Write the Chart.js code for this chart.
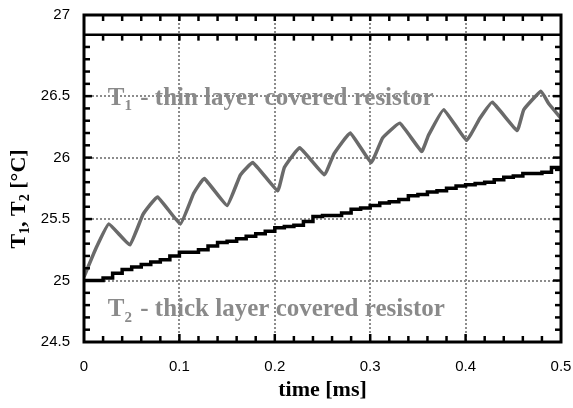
<!DOCTYPE html>
<html>
<head>
<meta charset="utf-8">
<script src="https://cdn.jsdelivr.net/npm/chart.js@4"></script>
<style>
  html, body { margin: 0; padding: 0; background: #fff; }
  #wrap { width: 573px; height: 408px; }
</style>
</head>
<body>
<div id="wrap"><canvas id="myChart" width="573" height="408"></canvas></div>
<script>
// thin layer resistor (T1)
const t1Time = [0, 0.013, 0.026, 0.048, 0.062, 0.077, 0.101, 0.115, 0.126, 0.150, 0.164, 0.177,
  0.203, 0.210, 0.226, 0.252, 0.262, 0.279, 0.301, 0.313, 0.331, 0.354, 0.361, 0.377,
  0.401, 0.415, 0.428, 0.454, 0.461, 0.479, 0.487, 0.5];
const t1Temp = [25.03, 25.27, 25.46, 25.29, 25.54, 25.68, 25.46, 25.71, 25.83, 25.61, 25.86, 25.96,
  25.73, 25.92, 26.08, 25.86, 26.03, 26.20, 25.96, 26.16, 26.28, 26.05, 26.18, 26.39,
  26.14, 26.32, 26.45, 26.22, 26.39, 26.54, 26.44, 26.32];

// thick layer resistor (T2), staircase
const t2Time = [0, 0.01, 0.02, 0.03, 0.04, 0.05, 0.06, 0.07, 0.08, 0.09,
  0.10, 0.11, 0.12, 0.13, 0.14, 0.15, 0.16, 0.17, 0.18, 0.19,
  0.20, 0.21, 0.22, 0.23, 0.24, 0.25, 0.26, 0.27, 0.28, 0.29,
  0.30, 0.31, 0.32, 0.33, 0.34, 0.35, 0.36, 0.37, 0.38, 0.39,
  0.40, 0.41, 0.42, 0.43, 0.44, 0.45, 0.46, 0.47, 0.48, 0.49, 0.50];
const t2Temp = [25.00, 25.00, 25.02, 25.06, 25.09, 25.11, 25.13, 25.15, 25.17, 25.20,
  25.23, 25.23, 25.25, 25.28, 25.31, 25.32, 25.34, 25.36, 25.38, 25.40,
  25.43, 25.44, 25.45, 25.48, 25.52, 25.53, 25.53, 25.55, 25.58, 25.59,
  25.61, 25.63, 25.64, 25.66, 25.69, 25.70, 25.72, 25.73, 25.75, 25.77,
  25.78, 25.79, 25.80, 25.82, 25.84, 25.85, 25.87, 25.87, 25.88, 25.92, 25.92];

const yTicks = [24.5, 25, 25.5, 26, 26.5];
const yTop = 27.16;   // top frame, labelled "27"
const xLabels = ['0', '0.1', '0.2', '0.3', '0.4', '0.5'];

const toXY = (xs, ys) => xs.map((x, i) => ({ x: x, y: ys[i] }));

const gridCol = (v, ends) => ends.includes(v) ? 'rgba(0,0,0,0)' : '#8c8c8c';

function tickLine(ctx, x1, y1, x2, y2) {
  ctx.beginPath();
  ctx.moveTo(x1, y1);
  ctx.lineTo(x2, y2);
  ctx.stroke();
}

// frame, inward ticks, the 27 line, labels inside the plot and the y title
const framePlugin = {
  id: 'frame',
  afterDraw(chart) {
    const ctx = chart.ctx;
    const a = chart.chartArea;
    const xs = chart.scales.x, ys = chart.scales.y;
    ctx.save();
    ctx.setLineDash([]);

    // texts inside plot
    ctx.fillStyle = '#8a8a8a';
    const drawSub = (main, sub, rest, x, y) => {
      ctx.font = 'bold 25px "Liberation Serif"';
      ctx.textBaseline = 'middle';
      ctx.textAlign = 'left';
      ctx.fillText(main, x, y);
      let w = ctx.measureText(main).width;
      ctx.font = 'bold 15px "Liberation Serif"';
      ctx.fillText(sub, x + w, y + 8);
      w += ctx.measureText(sub).width + 2;
      ctx.font = 'bold 25px "Liberation Serif"';
      ctx.fillText(rest, x + w, y);
    };
    drawSub('T', '1', ' - thin layer covered resistor', xs.getPixelForValue(0.025), ys.getPixelForValue(26.48));
    drawSub('T', '2', ' - thick layer covered resistor', xs.getPixelForValue(0.025), ys.getPixelForValue(24.76));

    // top label "27"
    ctx.fillStyle = '#000';
    ctx.font = '15px "Liberation Sans"';
    ctx.textAlign = 'right';
    ctx.textBaseline = 'middle';
    ctx.fillText('27', a.left - 14, ys.getPixelForValue(yTop));

    // line at 27
    ctx.strokeStyle = '#000';
    ctx.lineWidth = 2.5;
    const y27 = ys.getPixelForValue(27);
    tickLine(ctx, a.left, y27, a.right, y27);

    // frame
    ctx.lineWidth = 3;
    ctx.strokeRect(a.left, a.top, a.right - a.left, a.bottom - a.top);

    // ticks pointing in
    ctx.lineWidth = 2.5;
    for (let i = 1; i < 25; i++) {
      const px = xs.getPixelForValue(i * 0.02);
      const len = (i % 5 === 0) ? 8 : 6;
      tickLine(ctx, px, a.bottom, px, a.bottom - len);
      tickLine(ctx, px, a.top, px, a.top + 6);
      tickLine(ctx, px, y27, px, y27 + 6);
    }
    for (let i = 1; i < 25; i++) {
      const v = 24.5 + i * 0.1;
      if (v > 27.01) break;
      const py = ys.getPixelForValue(v);
      const len = (i % 5 === 0) ? 8 : 6;
      tickLine(ctx, a.left, py, a.left + len, py);
      tickLine(ctx, a.right, py, a.right - len, py);
    }

    // y title with subscripts
    ctx.translate(19, 199);
    ctx.rotate(-Math.PI / 2);
    ctx.fillStyle = '#000';
    ctx.textBaseline = 'middle';
    ctx.textAlign = 'left';
    const parts = [['T', 0], ['1', 1], [', T', 0], ['2', 1], [' [\u00b0C]', 0]];
    const fontOf = p => p[1] ? 'bold 14px "Liberation Serif"' : 'bold 22px "Liberation Serif"';
    let total = 0;
    parts.forEach(p => { ctx.font = fontOf(p); total += ctx.measureText(p[0]).width; });
    let cx = -total / 2;
    parts.forEach(p => {
      ctx.font = fontOf(p);
      ctx.fillText(p[0], cx, p[1] ? 6 : 0);
      cx += ctx.measureText(p[0]).width;
    });
    ctx.restore();
  }
};

const ctx = document.getElementById('myChart');
const myChart = new Chart(ctx, {
  type: 'scatter',
  data: {
    datasets: [
      {
        label: 'T2',
        data: toXY(t2Time, t2Temp),
        showLine: true,
        stepped: 'before',
        borderColor: '#000',
        borderWidth: 3.5,
        pointRadius: 0
      },
      {
        label: 'T1 edge',
        data: toXY(t1Time, t1Temp),
        showLine: true,
        borderColor: '#6a6a6a',
        borderWidth: 3.5,
        pointRadius: 0,
        tension: 0.1
      },
      {
        label: 'T1',
        data: toXY(t1Time, t1Temp),
        showLine: true,
        borderColor: '#c6c6c6',
        borderWidth: 1.5,
        pointRadius: 0,
        tension: 0.1
      }
    ]
  },
  options: {
    responsive: false,
    animation: false,
    events: [],
    layout: { padding: { top: 15, right: 12, left: 0, bottom: 0 } },
    plugins: { legend: { display: false }, tooltip: { enabled: false } },
    scales: {
      x: {
        type: 'linear',
        min: 0,
        max: 0.5,
        afterBuildTicks: s => { s.ticks = xLabels.map(v => ({ value: parseFloat(v) })); },
        afterFit: s => { s.height = 66; s.paddingLeft = 0; s.paddingRight = 0; },
        ticks: {
          callback: v => xLabels.find(l => parseFloat(l) === v),
          color: '#000',
          font: { family: '"Liberation Sans"', size: 15 },
          padding: 16,
          maxRotation: 0
        },
        grid: {
          color: c => gridCol(c.tick ? c.tick.value : -1, [0, 0.5]),
          lineWidth: 2,
          drawTicks: false
        },
        border: { display: false, dash: [2, 2] },
        title: {
          display: true,
          text: 'time [ms]',
          color: '#000',
          font: { family: '"Liberation Serif"', size: 22, weight: 'bold' },
          padding: { top: 12 }
        }
      },
      y: {
        type: 'linear',
        min: 24.5,
        max: yTop,
        afterBuildTicks: s => { s.ticks = yTicks.map(v => ({ value: v })); },
        afterFit: s => { s.width = 84; s.paddingTop = 0; s.paddingBottom = 0; },
        ticks: {
          callback: v => String(v),
          color: '#000',
          font: { family: '"Liberation Sans"', size: 15 },
          padding: 14
        },
        grid: {
          color: c => gridCol(c.tick ? c.tick.value : -1, [24.5]),
          lineWidth: 2,
          drawTicks: false
        },
        border: { display: false, dash: [2, 2] }
      }
    }
  },
  plugins: [framePlugin]
});
</script>
</body>
</html>
